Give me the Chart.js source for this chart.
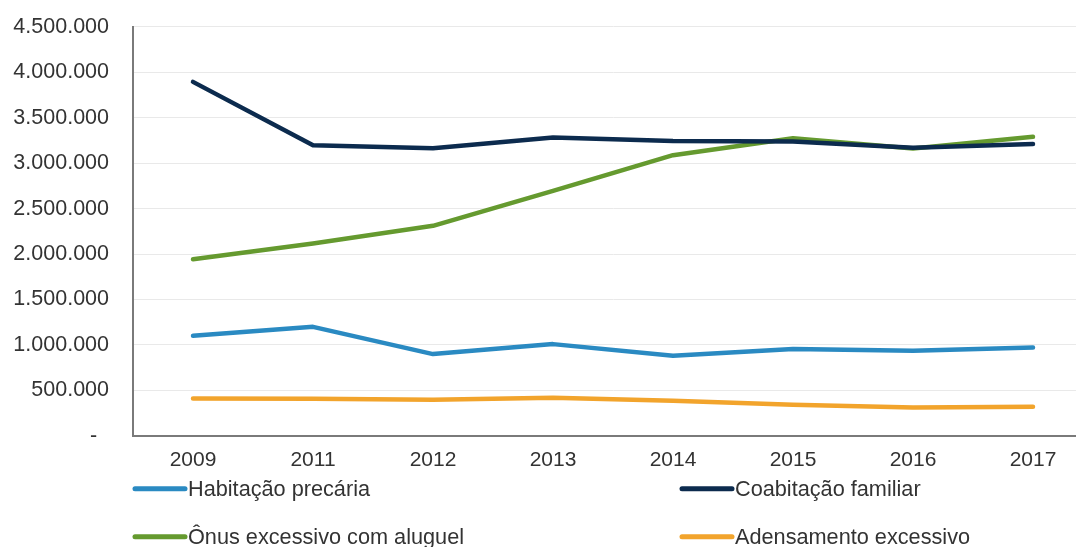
<!DOCTYPE html>
<html lang="pt-BR">
<head>
<meta charset="utf-8">
<title>Déficit habitacional por componente</title>
<script src="https://cdn.jsdelivr.net/npm/chart.js@4.4.1/dist/chart.umd.min.js"></script>
<style>
  html, body { margin: 0; padding: 0; background: #ffffff; overflow: hidden; }
  #wrap { position: relative; width: 1100px; height: 557px; margin-top: -10px; }
</style>
</head>
<body>
<div id="wrap"><canvas id="chart"></canvas></div>
<script>
// Anos da série
const anos = ['2009', '2011', '2012', '2013', '2014', '2015', '2016', '2017'];

// Componentes do déficit habitacional (domicílios)
const habitacaoPrecaria = [1100000, 1199000, 899000, 1009000, 880000, 954000, 935000, 972000];
const coabitacaoFamiliar = [3895000, 3198000, 3165000, 3282000, 3245000, 3238000, 3170000, 3210000];
const onusAluguel = [1944000, 2116000, 2311000, 2696000, 3088000, 3275000, 3161000, 3290000];
const adensamentoExcessivo = [410000, 407000, 396000, 420000, 385000, 341000, 311000, 319000];

const nomesSeries = [
  'Habitação precária',
  'Coabitação familiar',
  'Ônus excessivo com aluguel',
  'Adensamento excessivo'
];

const FONTE = '"Liberation Sans", Arial, sans-serif';
const COR_TEXTO = '#333333';

function formatarMilhar(v) {
  if (v === 0) return '-  ';
  return String(Math.round(v)).replace(/\B(?=(\d{3})+(?!\d))/g, '.');
}

// Legenda em duas colunas abaixo do eixo X
const legendaDuasColunas = {
  id: 'legendaDuasColunas',
  afterDraw(chart, args, opts) {
    const ctx = chart.ctx;
    const area = chart.chartArea;
    ctx.save();
    ctx.font = opts.fontSize + 'px ' + FONTE;
    ctx.textBaseline = 'middle';
    ctx.textAlign = 'left';
    chart.data.datasets.forEach((ds, i) => {
      const col = i % 2;
      const row = Math.floor(i / 2);
      const x = area.left + opts.colOffsets[col];
      const y = area.bottom + opts.rowOffsets[row];
      ctx.strokeStyle = ds.borderColor;
      ctx.lineWidth = opts.lineWidth;
      ctx.lineCap = 'round';
      ctx.beginPath();
      ctx.moveTo(x + 2, y);
      ctx.lineTo(x + opts.sampleWidth, y);
      ctx.stroke();
      ctx.fillStyle = COR_TEXTO;
      ctx.fillText(ds.label, x + opts.sampleWidth + 3, y + 1);
    });
    ctx.restore();
  }
};

function serie(label, data, cor) {
  return {
    label: label,
    data: data,
    borderColor: cor,
    backgroundColor: cor,
    borderWidth: 4.5,
    pointRadius: 0,
    pointHoverRadius: 0,
    tension: 0,
    fill: false,
    borderCapStyle: 'round',
    borderJoinStyle: 'round'
  };
}

new Chart(document.getElementById('chart'), {
  type: 'line',
  data: {
    labels: anos,
    datasets: [
      serie(nomesSeries[0], habitacaoPrecaria, '#2a8ac2'),
      serie(nomesSeries[1], coabitacaoFamiliar, '#0c2b4e'),
      serie(nomesSeries[2], onusAluguel, '#659a2f'),
      serie(nomesSeries[3], adensamentoExcessivo, '#f2a42c')
    ]
  },
  options: {
    responsive: true,
    maintainAspectRatio: false,
    animation: false,
    layout: { padding: { top: 4, left: 12, right: 7, bottom: 62 } },
    plugins: {
      legend: { display: false },
      tooltip: { enabled: false },
      legendaDuasColunas: {
        fontSize: 21.7,
        lineWidth: 5,
        sampleWidth: 52,
        colOffsets: [0, 547],
        rowOffsets: [53, 101]
      }
    },
    scales: {
      x: {
        offset: true,
        grid: { display: false, drawTicks: false },
        border: { display: true, color: '#7a7a7a', width: 2 },
        ticks: {
          color: COR_TEXTO,
          padding: 12,
          font: { family: FONTE, size: 21 },
          maxRotation: 0
        }
      },
      y: {
        min: 0,
        max: 4500000,
        grid: { color: '#e9e9e9', lineWidth: 1, drawTicks: false },
        border: { display: true, color: '#7a7a7a', width: 2 },
        afterFit: (scale) => { scale.width = 121; },
        ticks: {
          stepSize: 500000,
          color: COR_TEXTO,
          padding: 24,
          font: { family: FONTE, size: 21.5 },
          callback: (v) => formatarMilhar(v)
        }
      }
    }
  },
  plugins: [legendaDuasColunas]
});
</script>
</body>
</html>
